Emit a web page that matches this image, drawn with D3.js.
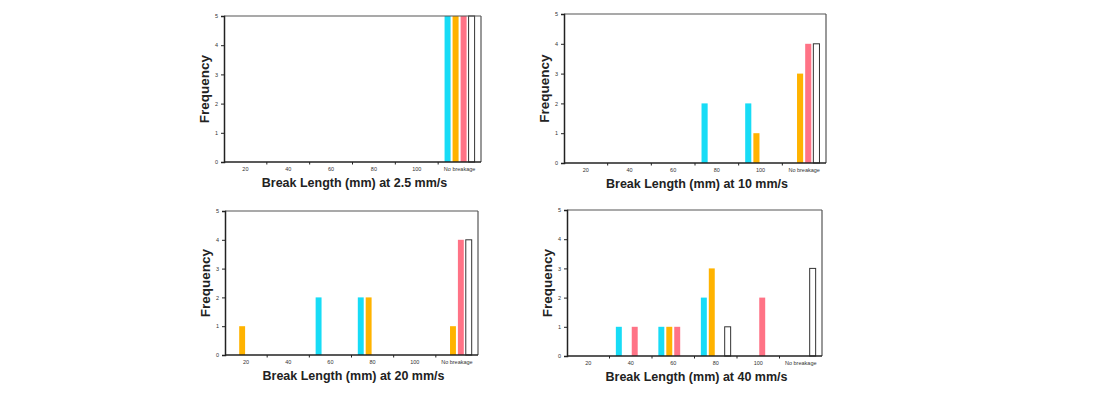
<!DOCTYPE html>
<html>
<head>
<meta charset="utf-8">
<script src="https://cdn.jsdelivr.net/npm/d3@7"></script>
<style>
  body { margin: 0; background: #fff; }
  svg { display: block; font-family: "Liberation Sans", Arial, sans-serif; }
</style>
</head>
<body>
<svg id="chart" width="1097" height="395"></svg>
<script>
// categories on the x axis
const categories = ["20", "40", "60", "80", "100", "No breakage"];
const seriesNames = ["s1", "s2", "s3", "s4"];
const seriesColors = ["#17dcf6", "#ffb300", "#ff7386", "#ffffff"];
const yTicks = [0, 1, 2, 3, 4, 5];

// frequency per series, one array per speed
const speed25 = [[0,0,0,0,0,5],[0,0,0,0,0,5],[0,0,0,0,0,5],[0,0,0,0,0,5]];
const speed10 = [[0,0,0,2,2,0],[0,0,0,0,1,3],[0,0,0,0,0,4],[0,0,0,0,0,4]];
const speed20 = [[0,0,2,2,0,0],[1,0,0,2,0,1],[0,0,0,0,0,4],[0,0,0,0,0,4]];
const speed40 = [[0,1,1,2,0,0],[0,0,1,3,0,0],[0,1,1,0,2,0],[0,0,0,1,0,3]];

const titles = [
  "Break Length (mm) at 2.5 mm/s",
  "Break Length (mm) at 10 mm/s",
  "Break Length (mm) at 20 mm/s",
  "Break Length (mm) at 40 mm/s"
];

const panels = [
  { data: speed25, title: titles[0], x0: 224, x1: 481, y0: 16, y1: 162 },
  { data: speed10, title: titles[1], x0: 564, x1: 826, y0: 14, y1: 163 },
  { data: speed20, title: titles[2], x0: 225, x1: 478, y0: 211, y1: 355 },
  { data: speed40, title: titles[3], x0: 567, x1: 822, y0: 210, y1: 356 }
];

const svg = d3.select("#chart");

panels.forEach((p) => {
  let g = svg.append("g");

  let x = d3.scaleBand().domain(categories).range([p.x0, p.x1]);
  let xs = d3.scaleBand().domain(seriesNames).range([0, x.bandwidth()]).paddingOuter(0.8).paddingInner(0.25);
  let y = d3.scaleLinear().domain([0, 5]).range([p.y1, p.y0]);

  // bars
  p.data.forEach((vals, si) => {
    g.append("g")
      .selectAll("rect")
      .data(vals.map((v, i) => ({ cat: categories[i], v: v })).filter((d) => d.v > 0))
      .join("rect")
      .attr("x", (d) => x(d.cat) + xs(seriesNames[si]))
      .attr("y", (d) => y(d.v))
      .attr("width", xs.bandwidth())
      .attr("height", (d) => y(0) - y(d.v))
      .attr("fill", seriesColors[si])
      .attr("stroke", si === 3 ? "#333" : "none")
      .attr("stroke-width", si === 3 ? 1 : 0);
  });

  // frame: top and right lighter
  g.append("line").attr("x1", p.x0).attr("x2", p.x1).attr("y1", p.y0).attr("y2", p.y0)
    .attr("stroke", "#555").attr("stroke-width", 1.2);
  g.append("line").attr("x1", p.x1).attr("x2", p.x1).attr("y1", p.y0).attr("y2", p.y1)
    .attr("stroke", "#555").attr("stroke-width", 1.2);

  // y axis
  let yAxis = g.append("g")
    .attr("transform", "translate(" + p.x0 + ",0)")
    .call(d3.axisLeft(y).tickValues(yTicks).tickFormat(d3.format("d")).tickSize(3).tickPadding(3));
  yAxis.select(".domain").attr("stroke", "#222").attr("stroke-width", 1.5);
  yAxis.selectAll(".tick line").attr("stroke", "#222");
  yAxis.selectAll("text").attr("font-size", 5.5).attr("fill", "#333");

  // x axis: ticks at band boundaries, labels centred on bands
  let xAxis = g.append("g").attr("transform", "translate(0," + p.y1 + ")");
  xAxis.append("line").attr("x1", p.x0).attr("x2", p.x1)
    .attr("stroke", "#222").attr("stroke-width", 1.5);
  xAxis.selectAll("line.tk")
    .data(categories.slice(1))
    .join("line")
    .attr("class", "tk")
    .attr("x1", (d) => x(d)).attr("x2", (d) => x(d))
    .attr("y1", 0).attr("y2", 2.5)
    .attr("stroke", "#222");
  xAxis.selectAll("text")
    .data(categories)
    .join("text")
    .attr("x", (d) => x(d) + x.bandwidth() / 2)
    .attr("y", 9)
    .attr("text-anchor", "middle")
    .attr("font-size", 5.5)
    .attr("fill", "#333")
    .text((d) => d);

  // titles
  g.append("text")
    .attr("x", (p.x0 + p.x1) / 2 + 2)
    .attr("y", p.y1 + 25)
    .attr("text-anchor", "middle")
    .attr("font-size", 12.5)
    .attr("font-weight", "bold")
    .attr("fill", "#222")
    .text(p.title);

  g.append("text")
    .attr("transform", "translate(" + (p.x0 - 15) + "," + (p.y0 + p.y1) / 2 + ") rotate(-90)")
    .attr("text-anchor", "middle")
    .attr("font-size", 13.5)
    .attr("font-weight", "bold")
    .attr("fill", "#222")
    .text("Frequency");
});
</script>
</body>
</html>
